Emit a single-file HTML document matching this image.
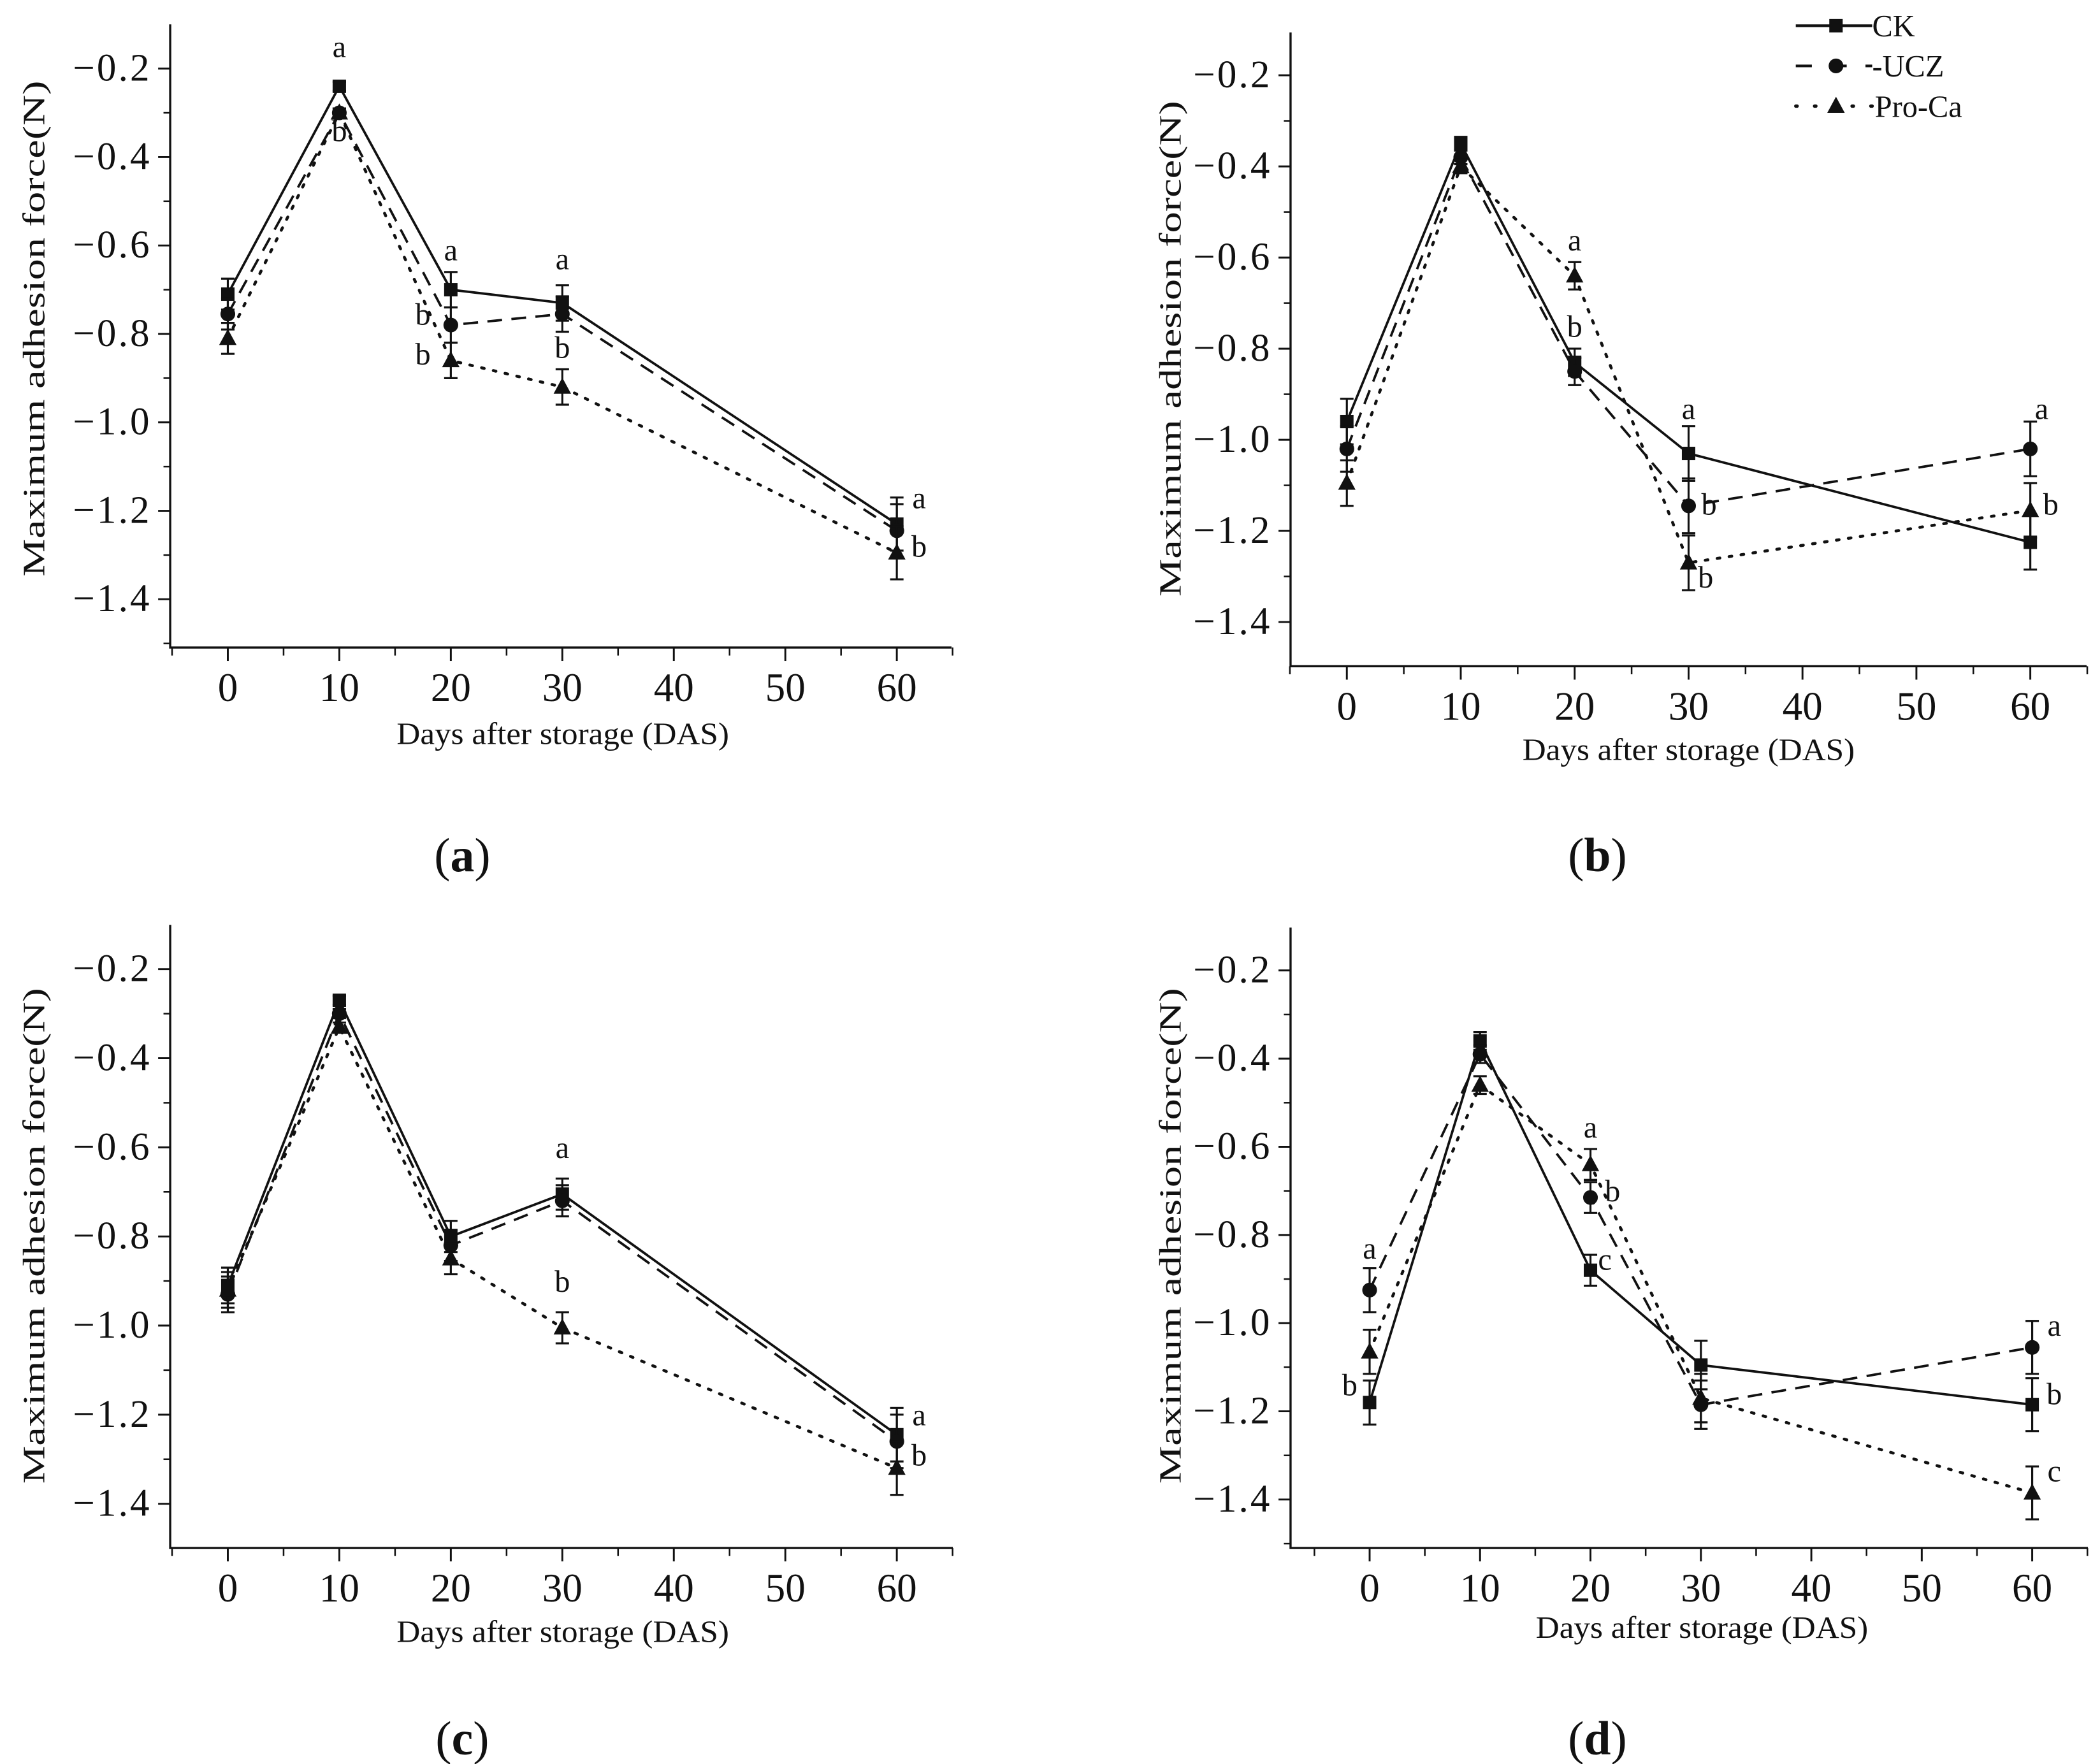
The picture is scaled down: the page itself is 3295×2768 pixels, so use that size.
<!DOCTYPE html>
<html><head><meta charset="utf-8"><style>
html,body{margin:0;padding:0;background:#fff;}
svg{display:block;}
text{font-family:"Liberation Serif","Times New Roman",serif;fill:#111;}
</style></head><body>
<svg id="fig" width="3295" height="2768" viewBox="0 0 1567 1316" xmlns="http://www.w3.org/2000/svg"></svg>
<script>
const days = [0, 10, 20, 30, 60];
const xTicks = [0, 10, 20, 30, 40, 50, 60];
const yTicks = [-0.2, -0.4, -0.6, -0.8, -1.0, -1.2, -1.4];
const seriesNames = ["CK", "UCZ", "Pro-Ca"];

const aCK  = [-0.71, -0.24, -0.70, -0.73, -1.23];
const aUCZ = [-0.755, -0.30, -0.78, -0.755, -1.245];
const aPro = [-0.81, -0.30, -0.86, -0.92, -1.295];
const aErr = [0.035, 0.01, 0.04, 0.04, 0.06];

const bCK  = [-0.96, -0.35, -0.83, -1.03, -1.225];
const bUCZ = [-1.02, -0.38, -0.85, -1.145, -1.02];
const bPro = [-1.095, -0.40, -0.64, -1.27, -1.155];
const bErr = [0.05, 0.015, 0.03, 0.06, 0.06];

const cCK  = [-0.91, -0.27, -0.80, -0.705, -1.245];
const cUCZ = [-0.93, -0.30, -0.82, -0.72, -1.26];
const cPro = [-0.92, -0.33, -0.85, -1.005, -1.32];
const cErr = [0.04, 0.01, 0.035, 0.035, 0.06];

const dCK  = [-1.18, -0.36, -0.88, -1.095, -1.185];
const dUCZ = [-0.925, -0.39, -0.715, -1.185, -1.055];
const dPro = [-1.065, -0.46, -0.64, -1.17, -1.385];
const dErr = [0.05, 0.02, 0.035, 0.055, 0.06];

const aLetters = [[10,-0.18,"a"],[10,-0.37,"b"],[20,-0.64,"a"],[17.5,-0.785,"b"],[17.5,-0.875,"b"],[30,-0.66,"a"],[30,-0.86,"b"],[62,-1.20,"a"],[62,-1.31,"b"]];
const bLetters = [[20,-0.59,"a"],[20,-0.78,"b"],[30,-0.96,"a"],[31.8,-1.17,"b"],[31.5,-1.33,"b"],[61,-0.96,"a"],[61.8,-1.17,"b"]];
const cLetters = [[30,-0.63,"a"],[30,-0.93,"b"],[62,-1.23,"a"],[62,-1.32,"b"]];
const dLetters = [[0,-0.86,"a"],[-1.8,-1.17,"b"],[20,-0.585,"a"],[22,-0.73,"b"],[21.3,-0.885,"c"],[62,-1.035,"a"],[62,-1.19,"b"],[62,-1.365,"c"]];

const NS = "http://www.w3.org/2000/svg";
const svg = document.getElementById("fig");
function mk(tag, attrs, parent){
  const e = document.createElementNS(NS, tag);
  for (const k in attrs) e.setAttribute(k, attrs[k]);
  (parent||svg).appendChild(e);
  return e;
}

const panels = [
  {id:"a", L:127, R:710, T:18, B:483, x0:170, xs:8.32, y0:51, ys:330, data:[aCK,aUCZ,aPro], err:aErr, letters:aLetters, lab:[345,638], xt:[420,555], yt:[25,245], legend:false},
  {id:"b", L:963, R:1557, T:24, B:497, x0:1005, xs:8.50, y0:56, ys:340, data:[bCK,bUCZ,bPro], err:bErr, letters:bLetters, lab:[1192,638], xt:[1260,567], yt:[873,260], legend:true},
  {id:"c", L:127, R:711, T:690, B:1155, x0:170, xs:8.32, y0:723, ys:332.5, data:[cCK,cUCZ,cPro], err:cErr, letters:cLetters, lab:[345,1297], xt:[420,1225], yt:[25,922], legend:false},
  {id:"d", L:963, R:1558, T:692, B:1155, x0:1022, xs:8.24, y0:724, ys:329, data:[dCK,dUCZ,dPro], err:dErr, letters:dLetters, lab:[1192,1297], xt:[1270,1222], yt:[873,922], legend:false}
];
const dashes = ["none", "11,7", "2,7"];

function marker(kind, x, y, g){
  let m;
  if (kind===0) m = mk("rect",{x:x-5,y:y-5,width:10,height:10,fill:"#111"},g);
  else if (kind===1) m = mk("circle",{cx:x,cy:y,r:5.5,fill:"#111"},g);
  else m = mk("polygon",{points:`${x},${y-7} ${x-6.5},${y+5} ${x+6.5},${y+5}`,fill:"#111"},g);
  return m;
}

panels.forEach(p=>{
  const X = v => p.x0 + p.xs*v;
  const Y = v => p.y0 + (-0.2 - v)*p.ys;
  const g = mk("g",{});
  
  
  const ax = mk("path",{d:`M${p.L},${p.T} L${p.L},${p.B} L${p.R},${p.B}`,fill:"none",stroke:"#111","stroke-width":1.6},g);
  
  
  yTicks.forEach(v=>{
    mk("line",{x1:p.L-9,x2:p.L,y1:Y(v),y2:Y(v),stroke:"#111","stroke-width":1.4},g);
    const t = mk("text",{x:p.L-14,y:Y(v)+9,"text-anchor":"end","font-size":29,"letter-spacing":1.5},g);
    t.textContent = "\u2212" + Math.abs(v).toFixed(1);
    
    
  });
  for (let v=-0.1; v>=-1.5; v-=0.2){
    const yy = Y(v);
    if (yy>p.T && yy<p.B) mk("line",{x1:p.L-5,x2:p.L,y1:yy,y2:yy,stroke:"#111","stroke-width":1.2},g);
  }
  xTicks.forEach(v=>{
    mk("line",{x1:X(v),x2:X(v),y1:p.B,y2:p.B+10,stroke:"#111","stroke-width":1.4},g);
    const t = mk("text",{x:X(v),y:p.B+40,"text-anchor":"middle","font-size":30},g);
    t.textContent = v;
    
    
  });
  for (let v=-5; v<=65; v+=10){
    const xx = X(v);
    if (xx>=p.L-1 && xx<=p.R+1) mk("line",{x1:xx,x2:xx,y1:p.B,y2:p.B+6,stroke:"#111","stroke-width":1.2},g);
  }
  const xt = mk("text",{x:p.xt[0],y:p.xt[1],"text-anchor":"middle","font-size":23,textLength:248,lengthAdjust:"spacingAndGlyphs"},g);
  xt.textContent = "Days after storage (DAS)";
  
  
  const yt = mk("text",{x:0,y:0,"text-anchor":"middle","font-size":23,textLength:370,lengthAdjust:"spacingAndGlyphs",transform:`translate(${p.yt[0]+8},${p.yt[1]}) rotate(-90)`},g);
  yt.textContent = "Maximum adhesion force(N)";
  
  
  p.data.forEach((vals,si)=>{
    const sg = mk("g",{},g);
    
    
    const d = vals.map((v,i)=>(i?"L":"M")+X(days[i])+","+Y(v)).join(" ");
    const attrs = {d:d,fill:"none",stroke:"#111","stroke-width":si===2?2.2:1.8};
    if (dashes[si]!=="none") attrs["stroke-dasharray"] = dashes[si];
    if (si===2) attrs["stroke-linecap"]="round";
    mk("path",attrs,sg);
    vals.forEach((v,i)=>{
      const x = X(days[i]), e = p.err[i];
      mk("path",{d:`M${x},${Y(v+e)} L${x},${Y(v-e)} M${x-5},${Y(v+e)} L${x+5},${Y(v+e)} M${x-5},${Y(v-e)} L${x+5},${Y(v-e)}`,stroke:"#111","stroke-width":1.5,fill:"none"},sg);
      const m = marker(si,x,Y(v),sg);
      
      
    });
  });
  p.letters.forEach(l=>{
    const t = mk("text",{x:X(l[0]),y:Y(l[1])-2,"text-anchor":"middle","font-size":23},g);
    t.textContent = l[2];
    
    
  });
  const pl = mk("text",{x:p.lab[0],y:p.lab[1]+12,"text-anchor":"middle","font-size":36},g);
  pl.innerHTML = '(<tspan font-weight="bold">' + p.id + '</tspan>)';
  
  
  if (p.legend){
    const lg = mk("g",{},g);
    
    
    const ly = [19, 49, 79];
    const lt = ["CK", "-UCZ", "Pro-Ca"];
    ly.forEach((yy,si)=>{
      const a = {x1:1340,x2:1397,y1:yy,y2:yy,stroke:"#111","stroke-width":2};
      if (si===1) a["stroke-dasharray"]="12,14";
      if (si===2){a["stroke-dasharray"]="1,13"; a["stroke-linecap"]="round"; a["stroke-width"]=2.5;}
      mk("line",a,lg);
      marker(si,1370,yy,lg);
      const t = mk("text",{x:si===2?1399:1397,y:yy+8,"font-size":23},lg);
      t.textContent = lt[si];
      
      
    });
  }
});
</script>
</body></html>
